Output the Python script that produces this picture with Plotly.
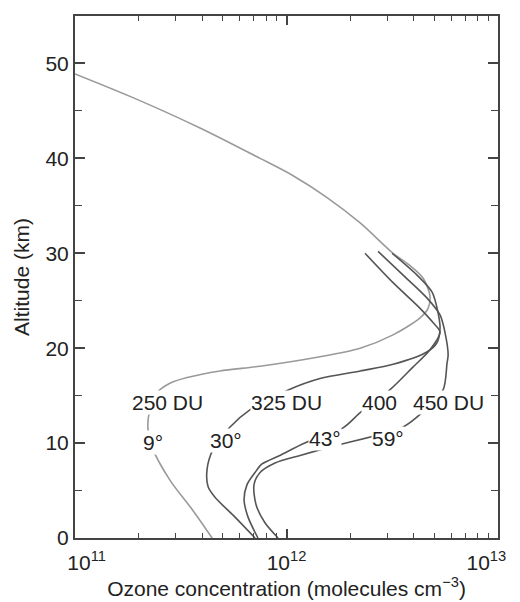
import math
import plotly.graph_objects as go

# Altitude (km) and ozone concentration (molecules cm^-3)
alt_250 = [48.9, 46.4, 43.2, 40.0, 38.2, 35.9, 33.2, 30.0, 28.7, 27.4, 25.6, 24.2, 23.2,
           21.4, 20.0, 19.1, 18.1, 17.6, 16.9, 16.3, 15.3, 13.5, 11.6, 9.6, 6.1, 2.9, 0.0]
conc_250 = [1.00e11, 1.88e11, 3.90e11, 7.50e11, 1.07e12, 1.55e12, 2.23e12, 3.19e12, 3.84e12,
            4.42e12, 4.76e12, 4.67e12, 4.28e12, 3.19e12, 2.23e12, 1.44e12, 7.50e11, 4.85e11,
            3.39e11, 2.81e11, 2.44e11, 2.26e11, 2.21e11, 2.31e11, 2.81e11, 3.61e11, 4.45e11]

alt_325 = [30.0, 27.7, 25.9, 23.8, 22.1, 20.6, 19.6, 18.3, 17.6, 16.8, 15.6, 13.5, 11.7,
           9.3, 7.2, 5.4, 4.3, 2.2, 0.0]
conc_325 = [3.16e12, 4.14e12, 4.88e12, 5.20e12, 5.32e12, 5.15e12, 4.61e12, 3.19e12, 2.23e12,
            1.44e12, 1.02e12, 6.71e11, 5.41e11, 4.49e11, 4.21e11, 4.26e11, 4.59e11, 5.71e11, 7.10e11]

alt_400 = [30.0, 26.9, 24.2, 22.7, 21.7, 19.8, 18.0, 15.6, 13.2, 11.6, 10.0, 8.7, 7.8,
           6.9, 5.6, 4.0, 2.2, 0.0]
conc_400 = [2.35e12, 3.19e12, 4.28e12, 4.93e12, 5.32e12, 4.76e12, 3.96e12, 3.08e12, 2.23e12,
            1.85e12, 1.22e12, 9.31e11, 7.66e11, 7.10e11, 6.50e11, 6.30e11, 6.58e11, 7.33e11]

alt_450 = [30.2, 27.7, 25.3, 23.5, 21.7, 19.3, 18.4, 15.6, 13.3, 11.7, 9.6, 8.7, 7.9,
           6.9, 5.6, 3.5, 1.6, 0.0]
conc_450 = [2.71e12, 3.56e12, 4.61e12, 5.32e12, 5.61e12, 5.81e12, 5.74e12, 5.50e12, 4.42e12,
            3.56e12, 1.61e12, 1.16e12, 8.83e11, 7.50e11, 7.02e11, 7.18e11, 7.91e11, 9.12e11]

# Curve labels: (text, concentration, altitude)
label_text = ["250 DU", "9°", "325 DU", "30°", "400", "43°", "450 DU", "59°"]
label_conc = [2.75e11, 2.34e11, 1.00e12, 5.20e11, 2.75e12, 1.52e12, 5.85e12, 3.02e12]
label_alt = [14.3, 10.1, 14.3, 10.3, 14.3, 10.5, 14.3, 10.5]

x_tickvals = [1e11, 1e12, 1e13]
x_ticktext = ["\u00a0\u00a0\u00a0\u00a010<sup>11</sup>", "10<sup>12</sup>",
              "10<sup>13</sup>\u00a0\u00a0\u00a0\u00a0"]
y_tickvals = [0, 10, 20, 30, 40, 50]

FONT = "Liberation Sans, Arial, Helvetica, sans-serif"
AXIS = "#444444"
FS = 21

fig = go.Figure()
series = [
    (conc_250, alt_250, "#9a9a9a"),
    (conc_325, alt_325, "#555555"),
    (conc_400, alt_400, "#555555"),
    (conc_450, alt_450, "#555555"),
]
for xs, ys, col in series:
    fig.add_trace(go.Scatter(x=xs, y=ys, mode="lines",
                             line=dict(color=col, width=1.6, shape="spline", smoothing=0.8),
                             showlegend=False, hoverinfo="skip"))

# annotations on a log axis take log10 positions
for t, xv, yv in zip(label_text, label_conc, label_alt):
    fig.add_annotation(x=math.log10(xv), y=yv, xref="x", yref="y", text=t, showarrow=False,
                       font=dict(family=FONT, size=FS, color="#222222"),
                       bgcolor="white", borderpad=0)

# figure sized to sit inside the page's default 8px body margin
fig.update_layout(
    width=512, height=594,
    margin=dict(l=67, r=22, t=8, b=64),
    paper_bgcolor="white", plot_bgcolor="white",
    font=dict(family=FONT, size=FS, color="#222222"),
)
fig.update_xaxes(
    type="log", range=[11, 13], automargin=False,
    tickvals=x_tickvals, ticktext=x_ticktext, ticklabeloverflow="allow",
    ticks="inside", ticklen=9, tickwidth=1.5, tickcolor=AXIS,
    minor=dict(ticks="inside", ticklen=5, tickwidth=1.2, tickcolor=AXIS, dtick="D1", showgrid=False),
    showline=True, linecolor=AXIS, linewidth=2, mirror="ticks",
    showgrid=False, zeroline=False, ticklabelstandoff=5,
    title=dict(text="Ozone concentration (molecules cm<sup>−3</sup>)", standoff=2,
               font=dict(size=FS)),
)
fig.update_yaxes(
    range=[0, 55], tickvals=y_tickvals, automargin=False,
    ticks="inside", ticklen=10, tickwidth=1.5, tickcolor=AXIS,
    minor=dict(ticks="inside", ticklen=7, tickwidth=1.2, tickcolor=AXIS, dtick=5, showgrid=False),
    showline=True, linecolor=AXIS, linewidth=2, mirror="ticks",
    showgrid=False, zeroline=False,
    title=dict(text="Altitude (km)", standoff=10, font=dict(size=FS)),
)

fig.write_html("out.html")
